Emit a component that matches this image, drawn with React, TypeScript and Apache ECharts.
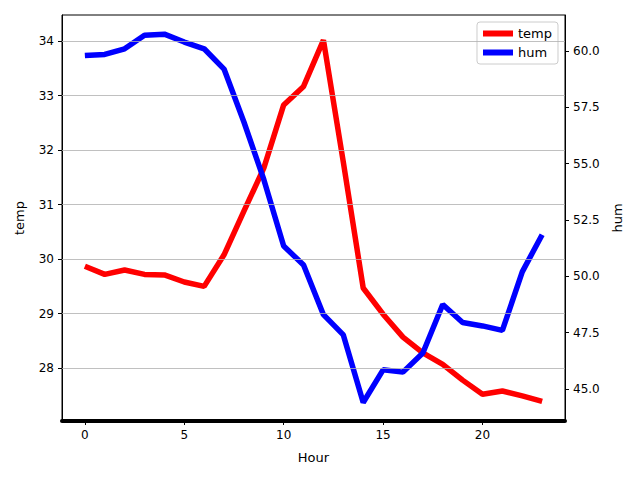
import React, { useEffect, useRef } from "react";
import * as echarts from "echarts";

const hours = Array.from({ length: 24 }, (_, i) => i);
const temp = [29.87, 29.72, 29.8, 29.72, 29.71, 29.58, 29.5, 30.08, 30.88, 31.67, 32.83, 33.17, 34.02, 31.78, 29.47, 28.99, 28.57, 28.28, 28.07, 27.78, 27.52, 27.58, 27.49, 27.39];
const hum = [59.8, 59.85, 60.1, 60.7, 60.75, 60.4, 60.1, 59.2, 56.85, 54.3, 51.35, 50.5, 48.3, 47.4, 44.4, 45.85, 45.75, 46.6, 48.75, 47.95, 47.8, 47.6, 50.2, 51.85];
const tempTicks = [28, 29, 30, 31, 32, 33, 34];
const humTicks = [45, 47.5, 50, 52.5, 55, 57.5, 60];
const xTicks = [0, 5, 10, 15, 20];

export default function App() {
  const ref = useRef<HTMLDivElement>(null);
  useEffect(() => {
    const chart = echarts.init(ref.current!, null, { renderer: "svg" });
    const font = "DejaVu Sans";
    chart.setOption({
      animation: false,
      textStyle: { fontFamily: font },
      grid: { left: 62, right: 75, top: 15, bottom: 59, show: true, borderColor: "#000", borderWidth: 1 },
      legend: {
        top: 22, right: 82, orient: "vertical", itemWidth: 30, itemHeight: 6, itemGap: 6,
        backgroundColor: "#fff", borderColor: "#ccc", borderWidth: 1, borderRadius: 3, padding: [5, 6],
        textStyle: { fontSize: 13, color: "#000" },
        data: [{ name: "temp", icon: "rect" }, { name: "hum", icon: "rect" }],
      },
      xAxis: {
        type: "value", min: -1.15, max: 24.15, name: "Hour", nameLocation: "middle", nameGap: 30,
        nameTextStyle: { fontSize: 13, color: "#000" },
        axisLine: { onZero: false, lineStyle: { color: "#000", width: 4 } },
        axisTick: { customValues: xTicks, lineStyle: { color: "#000" }, length: 4 },
        axisLabel: { customValues: xTicks, fontSize: 12, color: "#000" },
        splitLine: { show: false },
      },
      yAxis: [
        {
          type: "value", min: 27.03, max: 34.48, name: "temp", nameLocation: "middle", nameGap: 36,
          nameTextStyle: { fontSize: 13, color: "#000" },
          axisLine: { show: true, onZero: false, lineStyle: { color: "#000" } },
          axisTick: { show: true, customValues: tempTicks, length: 4, lineStyle: { color: "#000" } },
          axisLabel: { customValues: tempTicks, fontSize: 12, color: "#000" },
          splitLine: { show: false },
        },
        {
          type: "value", min: 43.58, max: 61.6, name: "hum", nameLocation: "middle", nameGap: 46,
          nameTextStyle: { fontSize: 13, color: "#000" },
          axisLine: { show: true, onZero: false, lineStyle: { color: "#000" } },
          axisTick: { show: true, customValues: humTicks, length: 4, lineStyle: { color: "#000" } },
          axisLabel: { customValues: humTicks, fontSize: 12, color: "#000", formatter: (v: number) => v.toFixed(1) },
          splitLine: { show: false },
        },
      ],
      series: [
        {
          name: "temp", type: "line", yAxisIndex: 0, data: hours.map((h, i) => [h, temp[i]]),
          showSymbol: false, lineStyle: { color: "red", width: 5.5 }, itemStyle: { color: "red" },
          markLine: {
            silent: true, symbol: "none", label: { show: false },
            lineStyle: { color: "#b0b0b0", width: 0.8, type: "solid" },
            data: tempTicks.map((t) => ({ yAxis: t })),
          },
        },
        {
          name: "hum", type: "line", yAxisIndex: 1, data: hours.map((h, i) => [h, hum[i]]),
          showSymbol: false, lineStyle: { color: "blue", width: 5.5 }, itemStyle: { color: "blue" },
        },
      ],
    });
    return () => chart.dispose();
  }, []);
  return <div ref={ref} style={{ width: 640, height: 480, margin: -8 }} />;
}
